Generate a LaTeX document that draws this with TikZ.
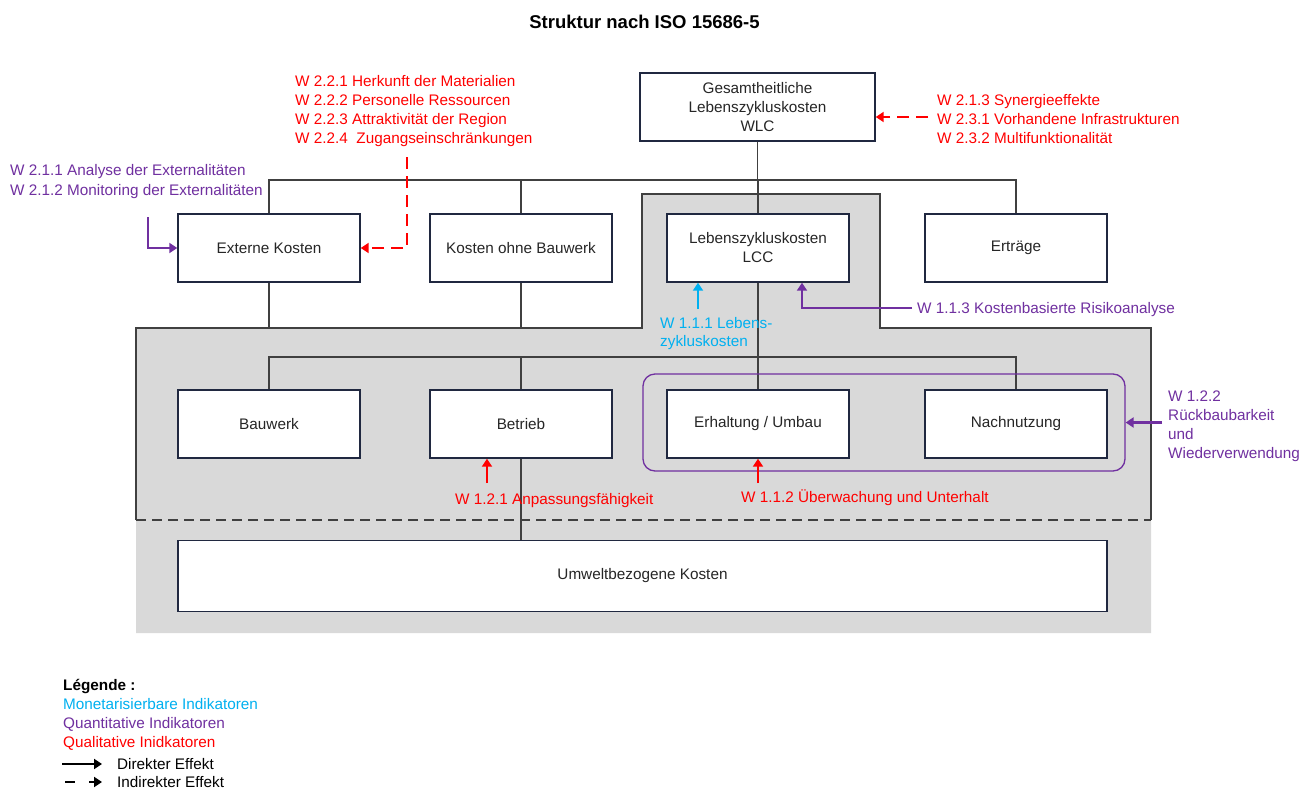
\documentclass[tikz,border=0pt]{standalone}
\usepackage{fontspec}
\setmainfont{Liberation Sans}
\usetikzlibrary{arrows.meta}
\definecolor{qred}{RGB}{255,0,0}
\definecolor{qpurple}{RGB}{112,48,160}
\definecolor{qcyan}{RGB}{0,176,240}
\definecolor{qgray}{RGB}{217,217,217}
\definecolor{qbox}{RGB}{32,40,64}
\definecolor{qline}{RGB}{64,64,64}
\definecolor{qtext}{RGB}{38,38,38}
\newcommand{\fsmain}{\fontsize{15.3}{19}\selectfont}
\begin{document}
\begin{tikzpicture}[x=1pt,y=-1pt,
  every node/.style={inner sep=0pt, font=\fsmain},
  kbox/.style={draw=qbox, line width=1.4pt, fill=white, minimum width=182pt, minimum height=68pt, align=center, text=qtext},
  conn/.style={draw=qline, line width=1.3pt},
  txt/.style={anchor=base west},
  arr/.style={line width=2.2pt, -{Triangle[length=8pt,width=10pt]}},
  darr/.style={arr, dash pattern=on 12pt off 7pt},
]
\fill[white] (0,0) rectangle (1307,790);
\useasboundingbox (0,0) rectangle (1307,790);
% grey areas
\fill[qgray] (642,194) -- (880,194) -- (880,328) -- (1151,328) -- (1151,633) -- (136,633) -- (136,328) -- (642,328) -- cycle;
\draw[conn] (136,520) -- (136,328) -- (642,328) -- (642,194) -- (880,194) -- (880,328) -- (1151,328) -- (1151,520);
\draw[qline, line width=1.6pt, dash pattern=on 10pt off 6pt] (136,520) -- (1151,520);
% title
\node[font=\fontsize{18.5}{22}\selectfont\bfseries, anchor=base] (title) at (644.5,28.6) {Struktur nach ISO 15686-5};
% boxes
\node[kbox, minimum width=235pt] (wlc) at (757.5,107) {Gesamtheitliche\\Lebenszykluskosten\\WLC};
\node[kbox] (ext) at (269,248) {Externe Kosten};
\node[kbox] (kob) at (521,248) {Kosten ohne Bauwerk};
\node[kbox] (lcc) at (758,248) {Lebenszykluskosten\\LCC};
\node[kbox] (ert) at (1016,248) {Erträge};
\node[kbox] (bau) at (269,424) {Bauwerk};
\node[kbox] (bet) at (521,424) {Betrieb};
\node[kbox] (erh) at (758,424) {Erhaltung / Umbau};
\node[kbox] (nach) at (1016,424) {Nachnutzung};
\node[kbox, minimum width=929pt, minimum height=71pt] (umw) at (642.5,576) {Umweltbezogene Kosten};
% connectors
\coordinate (b1) at (757.5,180);
\coordinate (b2) at (758,357);
\coordinate (gtop) at (269,328);
\draw[conn] (wlc.south) -- (b1);
\draw[conn] (ext.north) |- (b1) -| (ert.north);
\draw[conn] (kob.north) -- (kob.north |- b1);
\draw[conn] (lcc.north) -- (lcc.north |- b1);
\draw[conn] (ext.south) -- (ext.south |- gtop);
\draw[conn] (kob.south) -- (kob.south |- gtop);
\draw[conn] (lcc.south) -- (erh.north);
\draw[conn] (bau.north) |- (b2) -| (nach.north);
\draw[conn] (bet.north) -- (bet.north |- b2);
\draw[conn] (bet.south) -- (umw.north -| bet.south);
% purple group
\node[draw=qpurple, line width=1.3pt, rounded corners=12pt, minimum width=482pt, minimum height=97pt] (grp) at (884,422.5) {};
% arrows
\coordinate (r1) at (407,157);
\draw[darr, qred] (r1) |- (ext.east);
\coordinate (p1) at (148,217);
\draw[arr, qpurple] (p1) |- (ext.west);
\coordinate (r2) at (928,117);
\draw[darr, qred] (r2) -- (r2 -| wlc.east);
\coordinate (c1) at (698,309);
\draw[arr, qcyan] (c1) -- (c1 |- lcc.south);
\coordinate (p2) at (912,308);
\draw[arr, qpurple] (p2) -| ([xshift=44pt]lcc.south);
\coordinate (q1) at (487,483);
\draw[arr, qred] (q1) -- (q1 |- bet.south);
\coordinate (q2) at (758,483);
\draw[arr, qred] (q2) -- (erh.south);
\coordinate (p3) at (1162,422.5);
\draw[arr, qpurple] (p3) -- (grp.east);
% texts
\node[txt, text=qred] (ta1) at (295,86) {W 2.2.1 Herkunft der Materialien};
\node[txt, text=qred] (ta2) at (295,105) {W 2.2.2 Personelle Ressourcen};
\node[txt, text=qred] (ta3) at (295,124) {W 2.2.3 Attraktivität der Region};
\node[txt, text=qred] (ta4) at (295,143) {W 2.2.4\ \ Zugangseinschränkungen};
\node[txt, text=qpurple] (tb1) at (10,175.5) {W 2.1.1 Analyse der Externalitäten};
\node[txt, text=qpurple] (tb2) at (10,195.5) {W 2.1.2 Monitoring der Externalitäten};
\node[txt, text=qred] (tc1) at (937,105) {W 2.1.3 Synergieeffekte};
\node[txt, text=qred] (tc2) at (937,124) {W 2.3.1 Vorhandene Infrastrukturen};
\node[txt, text=qred] (tc3) at (937,143) {W 2.3.2 Multifunktionalität};
\node[txt, text=qcyan] (td1) at (660,328.5) {W 1.1.1 Lebens-};
\node[txt, text=qcyan] (td2) at (660,346.5) {zykluskosten};
\node[txt, text=qpurple] (te1) at (917,313) {W 1.1.3 Kostenbasierte Risikoanalyse};
\node[txt, text=qred] (tf1) at (455,504.5) {W 1.2.1 Anpassungsfähigkeit};
\node[txt, text=qred] (tg1) at (741,502.5) {W 1.1.2 Überwachung und Unterhalt};
\node[txt, text=qpurple] (th1) at (1168,401.5) {W 1.2.2};
\node[txt, text=qpurple] (th2) at (1168,420.5) {Rückbaubarkeit};
\node[txt, text=qpurple] (th3) at (1168,439.5) {und};
\node[txt, text=qpurple] (th4) at (1168,458.5) {Wiederverwendung};
% legend
\node[txt, font=\fsmain\bfseries] (lg0) at (63,690.5) {Légende :};
\node[txt, text=qcyan] (lg1) at (63,709.5) {Monetarisierbare Indikatoren};
\node[txt, text=qpurple] (lg2) at (63,728.5) {Quantitative Indikatoren};
\node[txt, text=qred] (lg3) at (63,747.5) {Qualitative Inidkatoren};
\node[txt] (lg4) at (117,769.5) {Direkter Effekt};
\node[txt] (lg5) at (117,787.5) {Indirekter Effekt};
\coordinate (la1) at (62,764);
\coordinate (la2) at (102,764);
\draw[line width=2pt, -{Triangle[length=8pt,width=10pt]}] (la1) -- (la2);
\coordinate (lb1) at (65,782);
\coordinate (lb2) at (102,782);
\draw[line width=2pt, dash pattern=on 10pt off 14pt, -{Triangle[length=8pt,width=10pt]}] (lb1) -- (lb2);
\end{tikzpicture}
\end{document}
